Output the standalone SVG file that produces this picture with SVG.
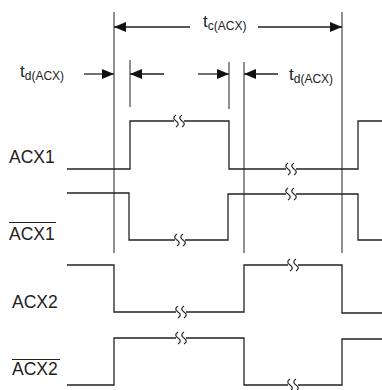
<svg xmlns="http://www.w3.org/2000/svg" width="382" height="390" viewBox="0 0 382 390">
<style>
.sig{fill:none;stroke:#222;stroke-width:1.3}
.ref{fill:none;stroke:#555;stroke-width:1.3}
.dim{fill:none;stroke:#222;stroke-width:1.3}
.brk{fill:none;stroke:#222;stroke-width:1.2}
.gap{stroke:#fff;stroke-width:4}
.ov{stroke:#222;stroke-width:1.2}
text{font-family:"Liberation Sans",Arial,sans-serif;fill:#222}
.lbl{font-size:17.5px}
.t{font-size:17px}
.sub{font-size:12px}
</style>
<defs>
<marker id="ah" viewBox="0 0 12 10" refX="12" refY="5" markerWidth="12" markerHeight="10" markerUnits="userSpaceOnUse" orient="auto">
<path d="M0,0 L12,5 L0,10 Z" fill="#111"/>
</marker>
<g id="brkmark">
<line x1="-5" y1="0" x2="5" y2="0" class="gap"/>
<path class="brk" d="M-3,-6 c-3,2 -3,4 0,6 c3,2 3,4 0,6 M3,-6 c-3,2 -3,4 0,6 c3,2 3,4 0,6"/>
</g>
</defs>
<g id="reference-lines">
<line class="ref" x1="114" y1="12" x2="114" y2="253"/>
<line class="ref" x1="130" y1="60" x2="130" y2="107"/>
<line class="ref" x1="229" y1="62" x2="229" y2="109"/>
<line class="ref" x1="244" y1="62" x2="244" y2="253"/>
<line class="ref" x1="342" y1="12" x2="342" y2="253"/>
</g>
<g id="connectors">
<line class="dim" x1="190" y1="27" x2="114" y2="27" marker-end="url(#ah)"/>
<line class="dim" x1="258" y1="27" x2="342" y2="27" marker-end="url(#ah)"/>
<line class="dim" x1="84" y1="74" x2="114" y2="74" marker-end="url(#ah)"/>
<line class="dim" x1="164" y1="74" x2="130" y2="74" marker-end="url(#ah)"/>
<line class="dim" x1="198" y1="74" x2="229" y2="74" marker-end="url(#ah)"/>
<line class="dim" x1="278" y1="74" x2="244" y2="74" marker-end="url(#ah)"/>
</g>
<g id="labels-timing">
<text class="t" x="20" y="77">t<tspan class="sub" dy="3">d(ACX)</tspan></text>
<text class="t" x="203" y="27">t<tspan class="sub" dy="3">c(ACX)</tspan></text>
<text class="t" x="289" y="80">t<tspan class="sub" dy="3">d(ACX)</tspan></text>
</g>
<g id="acx1">
<text class="lbl" x="9" y="163">ACX1</text>
<path class="sig" d="M67,169 H130 V121 H229 V169 H358 V121 H382"/>
<use href="#brkmark" x="179" y="121"/>
<use href="#brkmark" x="291" y="169"/>
</g>
<g id="acx1-bar">
<text class="lbl" x="9" y="240">ACX1</text>
<line class="ov" x1="9" y1="222.5" x2="56" y2="222.5"/>
<path class="sig" d="M67,193 H129 V240 H228 V194 H358 V240 H382"/>
<use href="#brkmark" x="180" y="240"/>
<use href="#brkmark" x="291" y="194"/>
</g>
<g id="acx2">
<text class="lbl" x="12" y="308">ACX2</text>
<path class="sig" d="M67,265 H114 V312 H244 V265 H342 V313 H382"/>
<use href="#brkmark" x="181" y="312"/>
<use href="#brkmark" x="293" y="265"/>
</g>
<g id="acx2-bar">
<text class="lbl" x="12" y="375">ACX2</text>
<line class="ov" x1="12" y1="359.5" x2="60" y2="359.5"/>
<path class="sig" d="M67,385 H114 V338 H244 V385 H342 V339 H382"/>
<use href="#brkmark" x="181" y="338"/>
<use href="#brkmark" x="293" y="385"/>
</g>
</svg>
